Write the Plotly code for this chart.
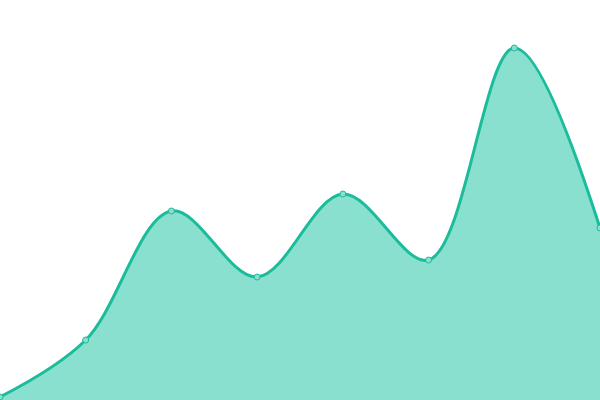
import plotly.graph_objects as go

# values (pixel space, 0 = bottom edge, 400 = top edge)
categories = [0, 1, 2, 3, 4, 5, 6, 7]
values = [3, 60, 189, 123, 206, 140, 352, 172]

LINE_COLOR = "#1bbc9b"
FILL_COLOR = "#8ae0cf"

fig = go.Figure()
fig.add_trace(
    go.Scatter(
        x=categories,
        y=values,
        mode="lines+markers",
        line=dict(color=LINE_COLOR, width=3, shape="spline", smoothing=1.0),
        marker=dict(size=6, color=FILL_COLOR, line=dict(color=LINE_COLOR, width=1)),
        fill="tozeroy",
        fillcolor=FILL_COLOR,
        cliponaxis=False,
        showlegend=False,
        hoverinfo="skip",
    )
)

fig.update_layout(
    width=600,
    height=400,
    margin=dict(l=0, r=0, t=0, b=0),
    paper_bgcolor="white",
    plot_bgcolor="white",
    xaxis=dict(range=[0, 7], visible=False, fixedrange=True),
    yaxis=dict(range=[0, 400], visible=False, fixedrange=True),
)

# page body has a default 8px margin, drop it so the chart sits at 0,0
fig.write_html(
    "out.html",
    config={"displayModeBar": False, "staticPlot": True},
    post_script="document.body.style.margin='0';document.body.style.overflow='hidden';",
)
